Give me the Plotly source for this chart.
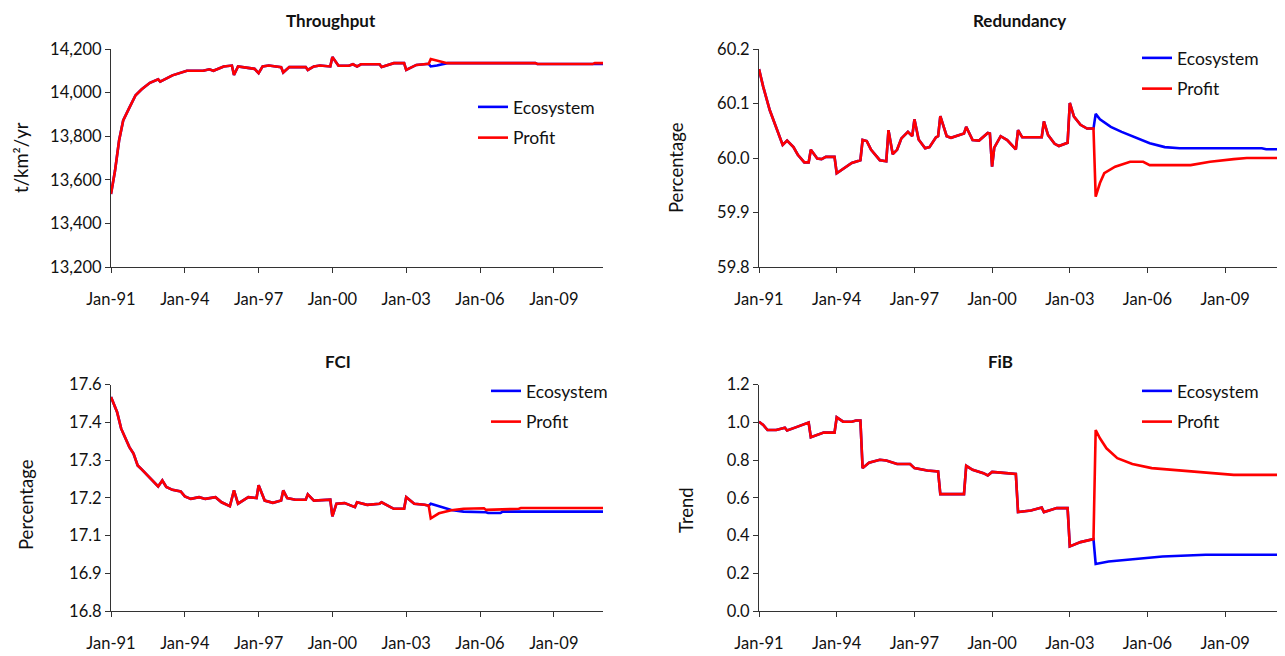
import plotly.graph_objects as go

W, H = 1285, 656

# ---------------- Throughput (t/km²/yr) ----------------
thr_dates = ["1991-01", "1991-03", "1991-05", "1991-07", "1991-10", "1992-01", "1992-04",
             "1992-08", "1992-12", "1993-01", "1993-07", "1994-02", "1994-10", "1995-01",
             "1995-03", "1995-08", "1995-12", "1996-01", "1996-03", "1996-11", "1997-01",
             "1997-03", "1997-06", "1997-12", "1998-01", "1998-04", "1998-12", "1999-01",
             "1999-04", "1999-07", "1999-12", "2000-01", "2000-04", "2000-09", "2000-11",
             "2001-01", "2001-03", "2001-12", "2002-01", "2002-07", "2002-12", "2003-01",
             "2003-06", "2003-12"]
thr_vals = [13535, 13640, 13780, 13872, 13931, 13988, 14015,
            14045, 14061, 14050, 14079, 14100, 14100, 14107,
            14100, 14120, 14124, 14081, 14120, 14109, 14089,
            14120, 14124, 14117, 14092, 14117, 14117, 14104,
            14120, 14124, 14120, 14163, 14123, 14123, 14130,
            14120, 14130, 14130, 14117, 14135, 14135, 14104,
            14127, 14132]
thr_eco_dates = ["2004-01", "2004-04", "2004-09", "2008-04", "2008-05", "2011-01"]
thr_eco_vals = [14120, 14124, 14135, 14135, 14131, 14131]
thr_pro_dates = ["2004-01", "2004-04", "2004-09", "2008-04", "2008-05", "2010-08", "2010-09", "2011-01"]
thr_pro_vals = [14154, 14146, 14135, 14135, 14131, 14131, 14136, 14135]

# ---------------- Redundancy (%) ----------------
red_dates = ["1991-01", "1991-03", "1991-06", "1991-09", "1991-12", "1992-02", "1992-05",
             "1992-07", "1992-10", "1992-12", "1993-01", "1993-04", "1993-06", "1993-08",
             "1993-12", "1994-01", "1994-03", "1994-08", "1994-12", "1995-01", "1995-03",
             "1995-05", "1995-09", "1995-12", "1996-01", "1996-03", "1996-05", "1996-07",
             "1996-10", "1996-12", "1997-01", "1997-03", "1997-06", "1997-08", "1997-11",
             "1997-12", "1998-01", "1998-04", "1998-06", "1998-12", "1999-01", "1999-04",
             "1999-07", "1999-11", "1999-12", "2000-01", "2000-02", "2000-05", "2000-08",
             "2000-12", "2001-01", "2001-03", "2001-12", "2002-01", "2002-03", "2002-06",
             "2002-08", "2002-12", "2003-01", "2003-03", "2003-06", "2003-09", "2003-12"]
red_vals = [60.163, 60.131, 60.088, 60.054, 60.024, 60.032, 60.020,
            60.006, 59.992, 59.992, 60.015, 59.999, 59.998, 60.002,
            60.002, 59.972, 59.977, 59.991, 59.996, 60.033, 60.031,
            60.015, 59.996, 59.994, 60.051, 60.007, 60.015, 60.036,
            60.048, 60.040, 60.071, 60.034, 60.018, 60.020, 60.038,
            60.040, 60.077, 60.040, 60.037, 60.045, 60.057, 60.033,
            60.032, 60.046, 60.045, 59.984, 60.019, 60.040, 60.033,
            60.016, 60.051, 60.038, 60.038, 60.067, 60.042, 60.026,
            60.022, 60.028, 60.101, 60.076, 60.061, 60.054, 60.054]
red_eco_dates = ["2004-01", "2004-03", "2004-08", "2005-01", "2005-08", "2006-02", "2006-09",
                 "2007-04", "2010-06", "2010-08", "2011-01"]
red_eco_vals = [60.081, 60.071, 60.057, 60.048, 60.036, 60.027, 60.020,
                60.018, 60.018, 60.016, 60.016]
red_pro_dates = ["2004-01", "2004-03", "2004-05", "2004-10", "2005-05", "2005-11", "2006-02",
                 "2007-09", "2008-06", "2009-05", "2009-11", "2011-01"]
red_pro_vals = [59.929, 59.954, 59.972, 59.984, 59.993, 59.993, 59.987,
                59.987, 59.993, 59.998, 60.000, 60.000]

# ---------------- FCI (%) ----------------
fci_dates = ["1991-01", "1991-04", "1991-06", "1991-10", "1991-12", "1992-02", "1992-04",
             "1992-08", "1992-12", "1993-02", "1993-04", "1993-07", "1993-11", "1994-01",
             "1994-04", "1994-08", "1994-11", "1995-04", "1995-07", "1995-11", "1996-01",
             "1996-03", "1996-08", "1996-12", "1997-01", "1997-04", "1997-08", "1997-12",
             "1998-01", "1998-03", "1998-07", "1998-12", "1999-01", "1999-04", "1999-12",
             "2000-01", "2000-03", "2000-07", "2000-12", "2001-01", "2001-06", "2001-12",
             "2002-01", "2002-07", "2002-12", "2003-01", "2003-05", "2003-10", "2003-12"]
fci_vals = [17.556, 17.503, 17.444, 17.379, 17.356, 17.314, 17.300,
            17.269, 17.240, 17.261, 17.238, 17.228, 17.222, 17.205,
            17.196, 17.202, 17.196, 17.202, 17.184, 17.170, 17.226,
            17.179, 17.202, 17.199, 17.244, 17.190, 17.182, 17.190,
            17.226, 17.199, 17.193, 17.193, 17.212, 17.190, 17.193,
            17.134, 17.179, 17.181, 17.167, 17.184, 17.175, 17.179,
            17.184, 17.161, 17.161, 17.202, 17.179, 17.175, 17.172]
fci_eco_dates = ["2004-01", "2004-05", "2004-11", "2005-05", "2006-04", "2006-05", "2006-11",
                 "2006-12", "2011-01"]
fci_eco_vals = [17.179, 17.170, 17.157, 17.151, 17.149, 17.146, 17.146, 17.151, 17.151]
fci_pro_dates = ["2004-01", "2004-05", "2004-11", "2005-05", "2006-03", "2006-04", "2007-08",
                 "2007-09", "2011-01"]
fci_pro_vals = [17.127, 17.145, 17.156, 17.161, 17.163, 17.157, 17.161, 17.164, 17.164]
fci_ticktext = ["16.8", "16.9", "17.1", "17.2", "17.3", "17.4", "17.6"]

# ---------------- FiB (trend) ----------------
fib_dates = ["1991-01", "1991-03", "1991-05", "1991-09", "1992-01", "1992-02", "1992-06",
             "1992-10", "1992-12", "1993-01", "1993-07", "1993-12", "1994-01", "1994-04",
             "1994-08", "1994-10", "1994-12", "1995-01", "1995-04", "1995-09", "1995-12",
             "1996-05", "1996-11", "1997-01", "1997-07", "1997-12", "1998-01", "1998-12",
             "1999-01", "1999-04", "1999-09", "1999-11", "2000-01", "2000-05", "2000-12",
             "2001-01", "2001-07", "2001-12", "2002-01", "2002-07", "2002-12", "2003-01",
             "2003-06", "2003-12"]
fib_vals = [1.003, 0.986, 0.959, 0.959, 0.971, 0.956, 0.973,
            0.991, 0.998, 0.921, 0.945, 0.945, 1.026, 1.003,
            1.003, 1.009, 1.009, 0.757, 0.786, 0.801, 0.797,
            0.779, 0.779, 0.757, 0.744, 0.739, 0.619, 0.619,
            0.769, 0.748, 0.730, 0.718, 0.737, 0.733, 0.726,
            0.524, 0.532, 0.548, 0.524, 0.545, 0.545, 0.342,
            0.365, 0.381]
fib_eco_dates = ["2004-01", "2004-07", "2005-04", "2006-08", "2008-04", "2011-01"]
fib_eco_vals = [0.249, 0.262, 0.271, 0.289, 0.298, 0.298]
fib_pro_dates = ["2004-01", "2004-03", "2004-06", "2004-11", "2005-06", "2006-03", "2007-01",
                 "2007-10", "2008-06", "2009-05", "2011-01"]
fib_pro_vals = [0.959, 0.915, 0.862, 0.810, 0.779, 0.757, 0.748,
                0.739, 0.730, 0.721, 0.721]

BLUE = "#0000FF"
RED = "#FF0000"
FONT = "Lato, 'Open Sans', sans-serif"
INK = "#111111"

fig = go.Figure()


def px_x(v):
    return v / W


def px_y(v):
    return 1 - v / H


panels = [
    dict(n="", title="Throughput", shared=(thr_dates, thr_vals),
         eco=(thr_eco_dates, thr_eco_vals), pro=(thr_pro_dates, thr_pro_vals),
         xp=(111, 603), yp=(49, 267), leg=(473, 89), title_xy=(331, 20)),
    dict(n="2", title="Redundancy", shared=(red_dates, red_vals),
         eco=(red_eco_dates, red_eco_vals), pro=(red_pro_dates, red_pro_vals),
         xp=(759, 1277), yp=(49, 267), leg=(1137, 40), title_xy=(1020, 20)),
    dict(n="3", title="FCI", shared=(fci_dates, fci_vals),
         eco=(fci_eco_dates, fci_eco_vals), pro=(fci_pro_dates, fci_pro_vals),
         xp=(111, 603), yp=(384.5, 611), leg=(486, 373), title_xy=(338, 361)),
    dict(n="4", title="FiB", shared=(fib_dates, fib_vals),
         eco=(fib_eco_dates, fib_eco_vals), pro=(fib_pro_dates, fib_pro_vals),
         xp=(759, 1277), yp=(384.5, 611), leg=(1137, 373), title_xy=(1000, 361)),
]

for p in panels:
    n = p["n"]
    sd, sv = p["shared"]
    legend_name = "legend" + n
    for name, (td, tv), color in (("Ecosystem", p["eco"], BLUE), ("Profit", p["pro"], RED)):
        fig.add_trace(go.Scatter(
            x=sd + td, y=sv + tv, mode="lines", name=name,
            line=dict(color=color, width=2.6),
            xaxis="x" + n, yaxis="y" + n,
            legend=legend_name, legendgroup=name + n,
            hoverinfo="skip",
        ))

axis_font = dict(family=FONT, size=16.5, color=INK)
common_x = dict(type="date", range=["1991-01-01", "2011-01-01"], tick0="1991-01-01",
                dtick="M36", tickformat="%b-%y", ticks="outside", ticklen=5,
                tickcolor="#333333", showline=True, linecolor="#333333", linewidth=1,
                showgrid=False, zeroline=False, tickfont=axis_font, ticklabelstandoff=12,
                automargin=False, fixedrange=True)
common_y = dict(ticks="outside", ticklen=5, tickcolor="#333333", showline=True,
                linecolor="#333333", linewidth=1, showgrid=False, zeroline=False,
                tickfont=axis_font, automargin=False, fixedrange=True)

y_specs = {
    "": dict(range=[13200, 14200], dtick=200, tick0=13200, tickformat=",d"),
    "2": dict(range=[59.8, 60.2], dtick=0.1, tick0=59.8, tickformat=".1f"),
    "3": dict(range=[16.8, 17.6], tickmode="array",
              tickvals=[16.8 + i * 0.8 / 6 for i in range(7)], ticktext=fci_ticktext),
    "4": dict(range=[0, 1.2], dtick=0.2, tick0=0, tickformat=".1f"),
}

layout = dict(width=W, height=H, margin=dict(l=0, r=0, t=0, b=0, pad=0, autoexpand=False),
              paper_bgcolor="white", plot_bgcolor="white",
              font=dict(family=FONT, size=16, color=INK),
              showlegend=True, annotations=[])

for p in panels:
    n = p["n"]
    x0, x1 = p["xp"]
    yt, yb = p["yp"]
    layout["xaxis" + n] = dict(common_x, domain=[px_x(x0), px_x(x1)], anchor="y" + n)
    layout["yaxis" + n] = dict(common_y, domain=[px_y(yb), px_y(yt)], anchor="x" + n,
                               **y_specs[n])
    lx, ly = p["leg"]
    layout["legend" + n] = dict(x=px_x(lx), y=px_y(ly), xanchor="left", yanchor="top",
                                bgcolor="rgba(0,0,0,0)", font=dict(family=FONT, size=17.5, color=INK),
                                tracegroupgap=5, itemwidth=30)
    tx, ty = p["title_xy"]
    layout["annotations"].append(dict(
        text="<b>" + p["title"] + "</b>", x=px_x(tx), y=px_y(ty), xref="paper", yref="paper",
        showarrow=False, font=dict(family=FONT, size=17, color=INK),
        xanchor="center", yanchor="middle"))

# Vertical axis titles
for text, x, y in (("t/km²/yr", 21, 158), ("Percentage", 676, 168),
                   ("Percentage", 26, 505), ("Trend", 686, 510)):
    layout["annotations"].append(dict(
        text=text, x=px_x(x), y=px_y(y), xref="paper", yref="paper", textangle=-90,
        showarrow=False, font=dict(family=FONT, size=18.5, color=INK),
        xanchor="center", yanchor="middle"))

fig.update_layout(**layout)
fig.write_html("out.html")
